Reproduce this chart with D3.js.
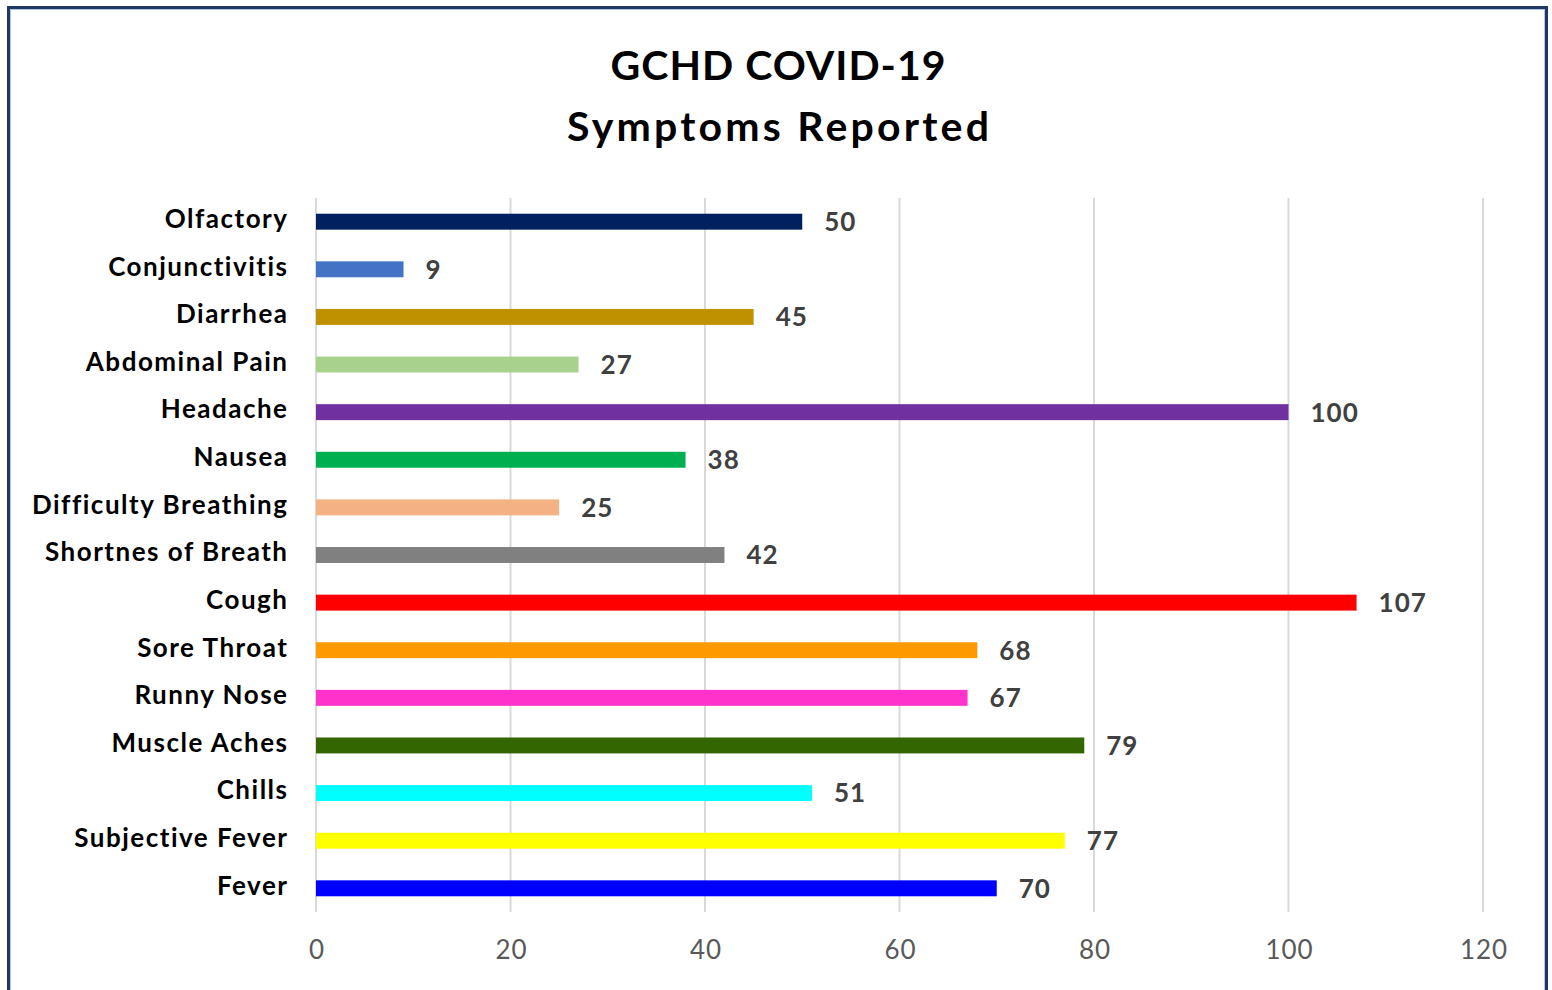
<!DOCTYPE html>
<html>
<head>
<meta charset="utf-8">
<title>GCHD COVID-19 Symptoms Reported</title>
<script src="https://cdn.jsdelivr.net/npm/d3@7/dist/d3.min.js"></script>
<style>
  body { margin: 0; background: #fff; }
  svg { display: block; }
</style>
</head>
<body>
<div id="chart"></div>
<script>
// data, top to bottom
var symptoms = ["Olfactory", "Conjunctivitis", "Diarrhea", "Abdominal Pain", "Headache",
                "Nausea", "Difficulty Breathing", "Shortnes of Breath", "Cough", "Sore Throat",
                "Runny Nose", "Muscle Aches", "Chills", "Subjective Fever", "Fever"];
var counts = [50, 9, 45, 27, 100, 38, 25, 42, 107, 68, 67, 79, 51, 77, 70];
var barColors = ["#002060", "#4472C4", "#BF9000", "#A9D18E", "#7030A0",
                 "#00B050", "#F4B183", "#808080", "#FF0000", "#FF9900",
                 "#FF33CC", "#336600", "#00FFFF", "#FFFF00", "#0000FF"];
var xTicks = [0, 20, 40, 60, 80, 100, 120];
var titleLines = ["GCHD COVID-19", "Symptoms Reported"];

var width = 1552, height = 990;
var font = "Lato, 'Open Sans', sans-serif";

var svg = d3.select("#chart").append("svg")
    .attr("width", width)
    .attr("height", height);

// frame
svg.append("rect")
    .attr("x", 8.5).attr("y", 7.5)
    .attr("width", 1538).attr("height", 1000)
    .attr("fill", "#fff")
    .attr("stroke", "#1F3864")
    .attr("stroke-width", 3);
svg.append("rect")
    .attr("x", 10.5).attr("y", 9.5)
    .attr("width", 1534).attr("height", 1000)
    .attr("fill", "none")
    .attr("stroke", "#B4C7E7")
    .attr("stroke-width", 1);

// title (Calibri-like spacing is wider than Lato, so stretch a little)
var titleSpacing = [1, 3.2];
svg.selectAll(".title")
    .data(titleLines)
    .enter()
    .append("text")
    .attr("class", "title")
    .attr("x", function(d, i){ return 778 + titleSpacing[i] / 2; })
    .attr("y", function(d, i){ return 80 + i * 61; })
    .attr("text-anchor", "middle")
    .attr("font-family", font)
    .attr("font-weight", "bold")
    .attr("font-size", "41px")
    .attr("letter-spacing", function(d, i){ return titleSpacing[i] + "px"; })
    .attr("fill", "#000")
    .text(function(d){ return d; });

var x = d3.scaleLinear().domain([0, 120]).range([316, 1483]);
var y = d3.scaleBand().domain(symptoms).range([198, 912]).paddingInner(0.665).paddingOuter(0.33);

// gridlines
svg.append("g")
    .selectAll("line")
    .data(xTicks)
    .enter()
    .append("line")
    .attr("x1", function(d){ return x(d); })
    .attr("x2", function(d){ return x(d); })
    .attr("y1", 198)
    .attr("y2", 912)
    .attr("stroke", "#D9D9D9")
    .attr("stroke-width", 2);

// x axis labels
var xAxis = d3.axisBottom(x).tickValues(xTicks).tickSize(0).tickPadding(0);
var gx = svg.append("g")
    .attr("transform", "translate(0,941)")
    .call(xAxis);
gx.select(".domain").remove();
gx.selectAll("text")
    .attr("dy", "0.71em")
    .attr("dx", "0.5px")
    .attr("font-family", font)
    .attr("font-size", "26px")
    .attr("letter-spacing", "1px")
    .attr("fill", "#595959");

// y axis labels
var yAxis = d3.axisLeft(y).tickSize(0).tickPadding(0);
var gy = svg.append("g")
    .attr("transform", "translate(288.5,-2)")
    .call(yAxis);
gy.select(".domain").remove();
gy.selectAll("text")
    .attr("font-family", font)
    .attr("font-weight", "bold")
    .attr("font-size", "26px")
    .attr("letter-spacing", "1.5px")
    .attr("fill", "#000");

// bars
svg.selectAll(".bar")
    .data(counts)
    .enter()
    .append("rect")
    .attr("class", "bar")
    .attr("x", x(0))
    .attr("y", function(d, i){ return y(symptoms[i]); })
    .attr("width", function(d){ return x(d) - x(0); })
    .attr("height", y.bandwidth())
    .attr("fill", function(d, i){ return barColors[i]; });

// value labels
svg.selectAll(".val")
    .data(counts)
    .enter()
    .append("text")
    .attr("class", "val")
    .attr("x", function(d){ return x(d) + 22; })
    .attr("y", function(d, i){ return y(symptoms[i]) + y.bandwidth() / 2; })
    .attr("dy", "0.36em")
    .attr("font-family", font)
    .attr("font-weight", "bold")
    .attr("font-size", "26px")
    .attr("letter-spacing", "1px")
    .attr("fill", "#404040")
    .text(function(d){ return d; });
</script>
</body>
</html>
